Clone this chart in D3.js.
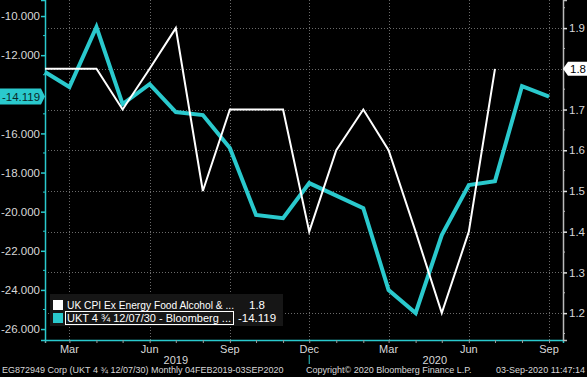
<!DOCTYPE html>
<html>
<head>
<meta charset="utf-8">
<script src="https://cdn.jsdelivr.net/npm/d3@7"></script>
<style>
  body { margin: 0; background: #000; }
  svg { display: block; font-family: "Liberation Sans", Arial, sans-serif; }
</style>
</head>
<body>
<div id="chart"></div>
<script>
// monthly data, Feb 2019 -> Sep 2020
var cpiMonths = ["2019-02", "2019-03", "2019-04", "2019-05", "2019-06", "2019-07", "2019-08", "2019-09",
    "2019-10", "2019-11", "2019-12", "2020-01", "2020-02", "2020-03", "2020-04", "2020-05", "2020-06", "2020-07"];
var cpiValues = [1.8, 1.8, 1.8, 1.7, 1.8, 1.9, 1.5, 1.7, 1.7, 1.7, 1.4, 1.6, 1.7, 1.6, 1.4, 1.2, 1.4, 1.8];

var ukMonths = ["2019-02", "2019-03", "2019-04", "2019-05", "2019-06", "2019-07", "2019-08", "2019-09",
    "2019-10", "2019-11", "2019-12", "2020-01", "2020-02", "2020-03", "2020-04", "2020-05", "2020-06", "2020-07",
    "2020-08", "2020-09"];
var ukValues = [-12.86, -13.63, -10.56, -14.50, -13.48, -14.91, -15.06, -16.75, -20.17, -20.33,
    -18.54, -19.18, -19.82, -24.01, -25.18, -21.20, -18.64, -18.44, -13.58, -14.119];

// -14 label is covered by the last value tag
var leftTicks = [-10, -12, -16, -18, -20, -22, -24, -26];
var rightTicks = [1.2, 1.3, 1.4, 1.5, 1.6, 1.7, 1.8, 1.9];
var legendNames = ["UK CPI Ex Energy Food Alcohol & ...", "UKT 4 \u00BE 12/07/30 - Bloomberg ..."];
var legendValues = ["1.8", "-14.119"];

var W = 587, H = 377;
var margin = { top: 0, right: 24, bottom: 37, left: 45 },
    width = W - margin.left - margin.right,
    height = H - margin.top - margin.bottom;

var cyan = "#2ac9cd";
var parseMonth = d3.timeParse("%Y-%m");

var svg = d3.select("#chart").append("svg")
    .attr("width", W)
    .attr("height", H);

svg.append("rect").attr("width", W).attr("height", H).attr("fill", "#000");

var g = svg.append("g").attr("transform", "translate(" + margin.left + "," + margin.top + ")");

var x = d3.scaleTime()
    .domain([new Date(2019, 1, 1), new Date(2020, 8, 17)])
    .range([0, width]);
var yL = d3.scaleLinear().domain([-26.56, -9.18]).range([height, 0]);
var yR = d3.scaleLinear().domain([1.134, 1.969]).range([height, 0]);

var quarterTicks = [new Date(2019, 2, 1), new Date(2019, 5, 1), new Date(2019, 8, 1), new Date(2019, 11, 1),
    new Date(2020, 2, 1), new Date(2020, 5, 1), new Date(2020, 8, 1)];

// grid
g.append("g")
    .selectAll("line")
    .data(rightTicks)
    .join("line")
    .attr("x1", 0).attr("x2", width)
    .attr("y1", function (d) { return Math.round(yR(d)) + 0.5; })
    .attr("y2", function (d) { return Math.round(yR(d)) + 0.5; })
    .attr("stroke", "#6a6a6a")
    .attr("stroke-dasharray", "1,2");

g.append("g")
    .selectAll("line")
    .data(quarterTicks)
    .join("line")
    .attr("x1", function (d) { return Math.round(x(d)) + 0.5; })
    .attr("x2", function (d) { return Math.round(x(d)) + 0.5; })
    .attr("y1", 0).attr("y2", height)
    .attr("stroke", "#6a6a6a")
    .attr("stroke-dasharray", "1,2");

// bottom axis
var xAxis = g.append("g")
    .attr("transform", "translate(0," + height + ")")
    .call(d3.axisBottom(x).ticks(d3.timeMonth.every(1)).tickSize(3).tickFormat(""));
xAxis.select(".domain").attr("stroke", cyan).attr("stroke-width", 1.5);
xAxis.selectAll(".tick line").attr("stroke", "#9a9a9a");

g.append("g")
    .selectAll("text")
    .data(quarterTicks)
    .join("text")
    .attr("x", function (d) { return x(d); })
    .attr("y", height + 13)
    .attr("text-anchor", "middle")
    .attr("fill", "#d8d8d8")
    .style("font-size", "11px")
    .text(d3.timeFormat("%b"));

g.append("g")
    .selectAll("text")
    .data([[new Date(2019, 6, 1), "2019"], [new Date(2020, 3, 23), "2020"]])
    .join("text")
    .attr("x", function (d) { return x(d[0]); })
    .attr("y", height + 24)
    .attr("text-anchor", "middle")
    .attr("fill", "#d8d8d8")
    .style("font-size", "11px")
    .text(function (d) { return d[1]; });

g.append("line")
    .attr("x1", x(new Date(2019, 11, 1))).attr("x2", x(new Date(2019, 11, 1)))
    .attr("y1", height + 15).attr("y2", height + 24)
    .attr("stroke", cyan).attr("stroke-width", 1);

// left axis
var leftAxis = g.append("g")
    .call(d3.axisLeft(yL).tickValues(leftTicks).tickSize(4).tickFormat(d3.format(".3f")));
leftAxis.select(".domain").attr("stroke", cyan).attr("stroke-width", 1.5);
leftAxis.selectAll(".tick line").attr("stroke", cyan).attr("stroke-width", 1.5);
leftAxis.selectAll(".tick text")
    .attr("fill", "#d8d8d8")
    .attr("x", -5)
    .style("font-size", "11.5px")
    .text(function (d) { return d3.format(".3f")(d).replace("\u2212", "-"); });
g.append("g")
    .selectAll("line")
    .data(d3.range(-25, -9, 2))
    .join("line")
    .attr("x1", -2).attr("x2", 0)
    .attr("y1", function (d) { return yL(d); })
    .attr("y2", function (d) { return yL(d); })
    .attr("stroke", cyan);

// right axis
var rightAxis = g.append("g")
    .attr("transform", "translate(" + width + ",0)")
    .call(d3.axisRight(yR).tickValues(rightTicks).tickSize(4).tickFormat(d3.format(".1f")));
rightAxis.select(".domain").attr("stroke", "#bbbbbb").attr("stroke-width", 1.5);
rightAxis.selectAll(".tick line").attr("stroke", "#dddddd").attr("stroke-width", 1.5);
rightAxis.selectAll(".tick text")
    .attr("fill", "#d8d8d8")
    .attr("x", 6)
    .style("font-size", "11.5px");
g.append("g")
    .selectAll("line")
    .data([1.15, 1.25, 1.35, 1.45, 1.55, 1.65, 1.75, 1.85, 1.95])
    .join("line")
    .attr("x1", width).attr("x2", width + 2)
    .attr("y1", function (d) { return yR(d); })
    .attr("y2", function (d) { return yR(d); })
    .attr("stroke", "#bbbbbb");

// lines
var cpiData = cpiMonths.map(function (m, i) { return { date: parseMonth(m), value: cpiValues[i] }; });
var ukData = ukMonths.map(function (m, i) { return { date: parseMonth(m), value: ukValues[i] }; });

g.append("path")
    .datum(ukData)
    .attr("fill", "none")
    .attr("stroke", cyan)
    .attr("stroke-width", 4)
    .attr("stroke-linejoin", "miter")
    .attr("d", d3.line()
        .x(function (d) { return x(d.date); })
        .y(function (d) { return yL(d.value); }));

g.append("path")
    .datum(cpiData)
    .attr("fill", "none")
    .attr("stroke", "#ffffff")
    .attr("stroke-width", 2)
    .attr("d", d3.line()
        .x(function (d) { return x(d.date); })
        .y(function (d) { return yR(d.value); }));

// last value tags
var lastUk = ukValues[ukValues.length - 1];
var ty = margin.top + yL(lastUk);
svg.append("path")
    .attr("d", "M0," + (ty - 8) + "H41L" + (margin.left) + "," + ty + "L41," + (ty + 8) + "H0Z")
    .attr("fill", cyan);
svg.append("text")
    .attr("x", 21).attr("y", ty + 4)
    .attr("text-anchor", "middle")
    .attr("fill", "#0a2a2a")
    .style("font-size", "11.5px")
    .text(d3.format(".3f")(lastUk).replace("\u2212", "-"));

var lastCpi = cpiValues[cpiValues.length - 1];
var ry = margin.top + yR(lastCpi);
var rx = margin.left + width;
svg.append("path")
    .attr("d", "M" + rx + "," + ry + "L" + (rx + 5) + "," + (ry - 7) + "H" + W + "V" + (ry + 7) + "H" + (rx + 5) + "Z")
    .attr("fill", "#ffffff");
svg.append("text")
    .attr("x", rx + 15).attr("y", ry + 4)
    .attr("text-anchor", "middle")
    .attr("fill", "#000")
    .style("font-size", "11.5px")
    .text(d3.format(".1f")(lastCpi));

// legend
var legend = svg.append("g").attr("transform", "translate(50,294)");
legend.append("rect")
    .attr("width", 233).attr("height", 32)
    .attr("fill", "#161616");
var rows = legend.selectAll("g.row")
    .data(legendNames)
    .join("g")
    .attr("class", "row")
    .attr("transform", function (d, i) { return "translate(0," + (4 + i * 13) + ")"; });
rows.append("rect")
    .attr("x", 3).attr("y", 2)
    .attr("width", 10).attr("height", 10)
    .attr("fill", function (d, i) { return i === 0 ? "#ffffff" : cyan; });
rows.filter(function (d, i) { return i === 1; })
    .append("rect")
    .attr("x", 15.5).attr("y", 0.5)
    .attr("width", 168).attr("height", 13)
    .attr("fill", "none")
    .attr("stroke", "#ffffff");
rows.append("text")
    .attr("x", 17).attr("y", 11)
    .attr("fill", "#ffffff")
    .style("font-size", "11px")
    .attr("textLength", function (d, i) { return i === 0 ? 167 : 164; })
    .attr("lengthAdjust", "spacingAndGlyphs")
    .text(function (d) { return d; });
rows.append("text")
    .attr("x", 207).attr("y", 11)
    .attr("text-anchor", "middle")
    .attr("fill", "#ffffff")
    .style("font-size", "11.5px")
    .text(function (d, i) { return legendValues[i]; });

// footer
var footer = svg.append("g").style("font-size", "9px").attr("fill", "#d8d8d8");
footer.append("text").attr("x", 2).attr("y", 373)
    .text("EG872949 Corp (UKT 4 \u00BE 12/07/30)  Monthly 04FEB2019-03SEP2020");
footer.append("text").attr("x", 306).attr("y", 373)
    .text("Copyright\u00A9 2020 Bloomberg Finance L.P.");
footer.append("text").attr("x", 585).attr("y", 373).attr("text-anchor", "end")
    .text("03-Sep-2020 11:47:14");
</script>
</body>
</html>
